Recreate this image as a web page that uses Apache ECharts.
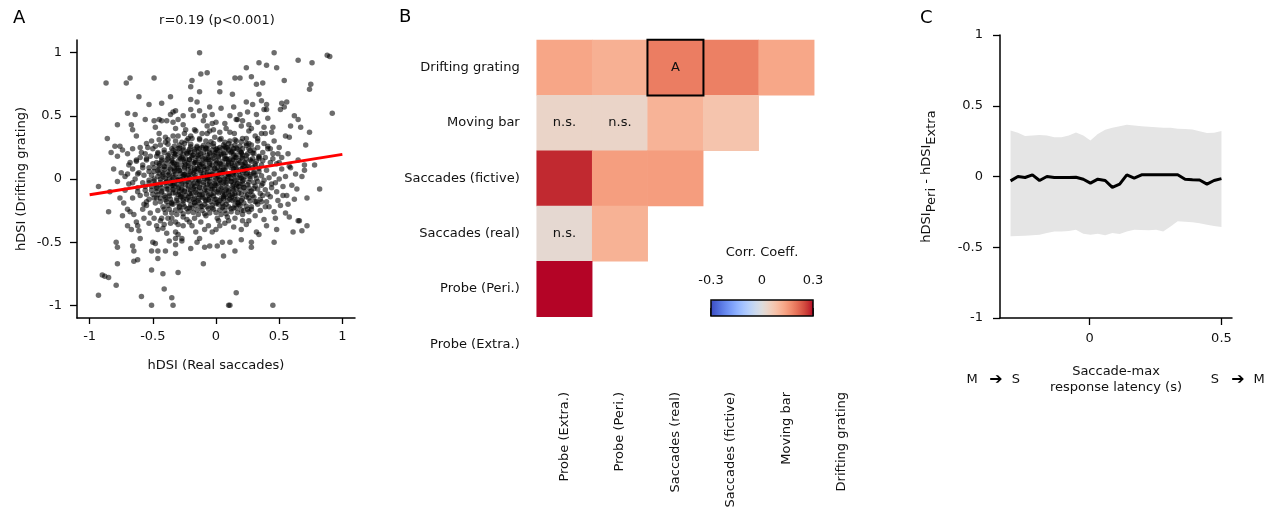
<!DOCTYPE html>
<html><head><meta charset="utf-8">
<script src="https://cdn.jsdelivr.net/npm/echarts@6/dist/echarts.min.js"></script>
<style>html,body{margin:0;padding:0;background:#fff}#c{width:1270px;height:512px}</style>
</head><body><div id="c"></div>
<script>
// ---------- Panel A data ----------
const scatterOuter = [
[-0.13,1.0],[-0.12,0.83],[-0.07,0.84],[-0.87,0.76],[-0.71,0.76],[-0.68,0.8],[-0.49,0.8],[-0.19,0.78],[-0.2,0.73],[-0.13,0.69],[-0.61,0.65],[-0.53,0.59],[-0.43,0.6],[-0.36,0.65],[-0.2,0.63],[-0.15,0.61],[-0.05,0.57],[-0.2,0.55],[-0.13,0.54],[-0.7,0.52],[-0.64,0.51],[-0.56,0.47],[-0.49,0.46],[-0.45,0.47],[-0.43,0.46],[-0.39,0.46],[-0.34,0.53],[-0.32,0.54],[-0.36,0.51],[-0.26,0.5],[-0.18,0.5],[-0.09,0.5],[-0.03,0.51],[-0.78,0.43],[-0.67,0.43],[-0.66,0.39],[-0.48,0.41],[-0.34,0.45],[-0.3,0.47],[-0.26,0.43],[-0.17,0.39],[-0.1,0.46],[-0.07,0.42],[-0.03,0.44],[-0.63,0.34],[-0.86,0.32],[-0.45,0.36],[-0.4,0.33],[-0.34,0.34],[-0.32,0.4],[-0.3,0.34],[-0.25,0.36],[-0.22,0.32],[-0.2,0.34],[-0.16,0.38],[-0.13,0.32],[-0.07,0.36],[-0.05,0.38],[-0.8,0.26],[-0.76,0.26],[-0.83,0.21],[-0.78,0.18],[-0.74,0.23],[-0.7,0.2],[-0.66,0.24],[-0.59,0.21],[-0.54,0.25],[-0.51,0.3],[-0.48,0.26],[-0.46,0.2],[-0.55,0.16],[-0.63,0.15],[-0.69,0.11],[-0.58,0.09],[-0.75,0.05],[-0.7,0.04],
[0.46,1.0],[0.34,0.92],[0.4,0.9],[0.48,0.88],[0.24,0.88],[0.65,0.94],[0.76,0.92],[0.88,0.98],[0.9,0.97],[0.15,0.8],[0.19,0.8],[0.28,0.81],[0.32,0.75],[0.37,0.76],[0.54,0.78],[0.75,0.75],[0.74,0.71],[0.03,0.76],[0.03,0.69],[0.13,0.67],[0.34,0.67],[0.36,0.62],[0.24,0.61],[0.29,0.59],[0.4,0.59],[0.4,0.55],[0.38,0.55],[0.52,0.6],[0.56,0.61],[0.54,0.57],[0.51,0.55],[0.04,0.56],[0.14,0.57],[0.11,0.5],[0.19,0.51],[0.25,0.53],[0.32,0.51],[0.21,0.46],[0.17,0.47],[0.41,0.48],[0.62,0.5],[0.65,0.47],[0.92,0.52],[0.59,0.42],[0.67,0.41],[0.74,0.37],[0.38,0.41],[0.45,0.41],[0.44,0.37],[0.39,0.36],[0.55,0.34],[0.58,0.33],[0.26,0.38],[0.31,0.34],[0.33,0.32],[0.71,0.27],[0.5,0.25],[0.41,0.24],[0.33,0.25],[0.26,0.28],[0.21,0.32],[0.16,0.3],[0.11,0.37],[0.07,0.44],[0.0,0.45],[0.57,0.2],[0.49,0.2],[0.65,0.15],[0.7,0.11],[0.78,0.11],[0.59,0.09],[0.5,0.13],[0.7,0.07],[0.63,0.04],
[0.16,0.47],[0.08,0.4],[0.2,0.42],[0.145,0.36],[0.26,0.43],[0.33,0.45],[0.04,0.32],[0.24,0.32],[0.12,0.26],
[-0.93,-0.06],[-0.85,-0.26],[-0.76,-0.15],[-0.93,-0.92],[-0.9,-0.76],[-0.88,-0.77],[-0.85,-0.78],[-0.79,-0.84],[-0.78,-0.67],[-0.79,-0.5],[-0.78,-0.54],[-0.66,-0.53],[-0.65,-0.57],[-0.65,-0.65],[-0.62,-0.64],[-0.6,-0.47],[-0.5,-0.5],[-0.48,-0.51],[-0.51,-0.57],[-0.46,-0.57],[-0.46,-0.63],[-0.51,-0.72],[-0.42,-0.75],[-0.41,-0.87],[-0.59,-0.93],[-0.51,-1.0],[-0.35,-0.94],[-0.34,-1.0],[-0.3,-0.74],[-0.4,-0.57],[-0.32,-0.59],[-0.32,-0.52],[-0.32,-0.47],[-0.27,-0.49],[-0.2,-0.55],[-0.15,-0.5],[-0.09,-0.54],[-0.05,-0.53],[-0.1,-0.67],[-0.74,-0.29],[-0.7,-0.24],[-0.68,-0.26],[-0.65,-0.28],[-0.63,-0.34],[-0.62,-0.37],[-0.7,-0.37],[-0.67,-0.4],[-0.61,-0.41],[-0.57,-0.2],[-0.55,-0.18],[-0.47,-0.15],[-0.47,-0.37],[-0.46,-0.4],[-0.42,-0.39],[-0.39,-0.43],[-0.37,-0.49],[-0.32,-0.42],[-0.3,-0.44],[-0.27,-0.47],[-0.43,-0.31],[-0.38,-0.31],[-0.32,-0.34],[-0.26,-0.37],[-0.21,-0.34],[-0.16,-0.42],[-0.09,-0.4],[-0.13,-0.47],[-0.03,-0.42],
[0.82,-0.08],[0.72,-0.15],[0.62,-0.16],[0.57,-0.2],[0.51,-0.21],[0.49,-0.17],[0.53,-0.13],[0.56,-0.13],[0.43,-0.14],[0.37,-0.13],[0.36,-0.18],[0.4,-0.18],[0.42,-0.22],[0.46,-0.26],[0.47,-0.31],[0.58,-0.3],[0.65,-0.33],[0.66,-0.33],[0.72,-0.37],[0.68,-0.41],[0.61,-0.42],[0.46,-0.5],[0.38,-0.32],[0.32,-0.42],[0.34,-0.44],[0.28,-0.5],[0.28,-0.54],[0.2,-0.48],[0.11,-0.5],[0.05,-0.5],[0.01,-0.53],[0.06,-0.61],[0.15,-0.57],[0.16,-0.9],[0.1,-1.0],[0.11,-1.0],[0.45,-1.0],[0.21,-0.33],[0.26,-0.33],[0.1,-0.33],[0.02,-0.33],[0.03,-0.37],[0.26,-0.26],[0.28,-0.24],[0.22,-0.25],[0.33,-0.2],[0.32,-0.18],[0.18,-0.2]
];
const scatterRing = [
[-0.68,0.13],[-0.72,-0.09],[-0.66,-0.15],[-0.62,-0.1],[-0.58,-0.24],[-0.52,-0.27],[-0.49,-0.31],[-0.53,-0.35],[-0.57,-0.31],[-0.44,-0.33],[-0.41,-0.36],[-0.36,-0.35],[-0.3,-0.36],[-0.23,-0.32],[-0.19,-0.37],[-0.12,-0.34],[-0.06,-0.37],[0.0,-0.4],[0.07,-0.35],[0.14,-0.38],[0.15,-0.31],[0.2,-0.4],[0.24,-0.36],[0.31,-0.29],[0.35,-0.25],[0.39,-0.22],[0.44,-0.07],[0.47,-0.03],[0.53,-0.06],[0.55,0.02],[0.48,0.12],[0.45,0.16],[0.52,0.17],[0.43,0.24],[0.38,0.28],[0.46,0.3],[0.36,0.36],[0.28,0.4],[-0.02,0.39],[0.03,0.37],[-0.11,0.36],[-0.24,0.39],[-0.4,0.29],[-0.45,0.31],[-0.55,0.28],[-0.6,0.25],[-0.62,0.04],[-0.66,-0.03],[-0.78,-0.02],[-0.81,0.08],[-0.84,-0.1],[-0.73,-0.19],[0.6,-0.05],[0.58,0.1],[0.64,-0.08],[0.68,0.02],[0.55,-0.27],[0.48,-0.4],[0.4,-0.37]
];
const scatterCore = [
[-0.38,0.31],[-0.27,0.29],[-0.19,0.32],[-0.08,0.30],[-0.01,0.33],[0.07,0.29],[0.15,0.31],[0.24,0.28],[0.33,0.30],
[-0.44,0.27],[-0.33,0.26],[-0.25,0.28],[-0.15,0.26],[-0.06,0.27],[0.03,0.25],[0.1,0.28],[0.19,0.26],[0.28,0.27],[0.41,0.26],
[-0.5,0.24],[-0.41,0.23],[-0.3,0.24],[-0.22,0.22],[-0.13,0.24],[-0.03,0.23],[0.05,0.24],[0.13,0.22],[0.21,0.24],[0.3,0.23],[0.37,0.21],
[-0.56,0.2],[-0.46,0.21],[-0.37,0.2],[-0.28,0.21],[-0.18,0.19],[-0.1,0.21],[-0.01,0.2],[0.08,0.21],[0.16,0.19],[0.25,0.2],[0.34,0.18],[0.45,0.2],
[-0.6,0.17],[-0.52,0.18],[-0.43,0.17],[-0.33,0.18],[-0.24,0.16],[-0.15,0.18],[-0.06,0.17],[0.02,0.18],[0.11,0.16],[0.2,0.17],[0.29,0.16],[0.39,0.17],
[-0.63,0.14],[-0.55,0.15],[-0.47,0.13],[-0.39,0.15],[-0.3,0.14],[-0.21,0.15],[-0.12,0.13],[-0.04,0.15],[0.05,0.14],[0.14,0.15],[0.23,0.13],[0.32,0.14],[0.43,0.13],
[-0.58,0.11],[-0.5,0.12],[-0.41,0.1],[-0.35,0.12],[-0.27,0.11],[-0.18,0.12],[-0.09,0.1],[0.0,0.12],[0.08,0.11],[0.17,0.12],[0.26,0.1],[0.36,0.11],
[-0.66,0.08],[-0.53,0.09],[-0.45,0.08],[-0.37,0.09],[-0.29,0.07],[-0.2,0.09],[-0.14,0.08],[-0.05,0.09],[0.03,0.07],[0.12,0.09],[0.2,0.08],[0.29,0.09],[0.4,0.07],[0.52,0.08],
[-0.61,0.05],[-0.49,0.06],[-0.42,0.05],[-0.33,0.06],[-0.24,0.04],[-0.16,0.06],[-0.07,0.05],[0.01,0.06],[0.09,0.04],[0.18,0.06],[0.25,0.05],[0.34,0.06],[0.46,0.04],
[-0.72,0.02],[-0.57,0.03],[-0.46,0.02],[-0.38,0.03],[-0.3,0.01],[-0.22,0.03],[-0.11,0.02],[-0.03,0.03],[0.06,0.01],[0.14,0.03],[0.23,0.02],[0.31,0.03],[0.42,0.01],
[-0.64,0.0],[-0.53,-0.01],[-0.44,0.0],[-0.35,-0.01],[-0.26,0.0],[-0.19,-0.01],[-0.09,0.0],[-0.01,-0.01],[0.07,0.0],[0.16,-0.01],[0.27,0.0],[0.38,-0.01],[0.5,0.0],
[-0.69,-0.04],[-0.58,-0.03],[-0.48,-0.04],[-0.4,-0.03],[-0.31,-0.04],[-0.23,-0.02],[-0.14,-0.03],[-0.05,-0.04],[0.04,-0.03],[0.12,-0.02],[0.21,-0.04],[0.3,-0.03],[0.44,-0.04],
[-0.62,-0.07],[-0.51,-0.06],[-0.43,-0.07],[-0.34,-0.05],[-0.27,-0.07],[-0.17,-0.06],[-0.08,-0.07],[0.0,-0.05],[0.09,-0.07],[0.18,-0.06],[0.26,-0.07],[0.36,-0.05],
[-0.56,-0.09],[-0.47,-0.1],[-0.38,-0.08],[-0.29,-0.1],[-0.2,-0.09],[-0.12,-0.1],[-0.03,-0.08],[0.06,-0.1],[0.14,-0.09],[0.23,-0.1],[0.33,-0.08],[0.48,-0.1],
[-0.6,-0.13],[-0.5,-0.12],[-0.41,-0.13],[-0.32,-0.11],[-0.24,-0.13],[-0.15,-0.12],[-0.06,-0.13],[0.02,-0.11],[0.11,-0.13],[0.2,-0.12],[0.29,-0.13],[0.41,-0.12],
[-0.53,-0.16],[-0.44,-0.15],[-0.36,-0.16],[-0.27,-0.14],[-0.18,-0.16],[-0.1,-0.15],[-0.01,-0.16],[0.08,-0.14],[0.17,-0.16],[0.26,-0.15],[0.35,-0.16],
[-0.48,-0.19],[-0.39,-0.18],[-0.3,-0.19],[-0.21,-0.17],[-0.13,-0.19],[-0.04,-0.18],[0.05,-0.19],[0.13,-0.17],[0.22,-0.19],[0.31,-0.18],
[-0.55,-0.21],[-0.42,-0.22],[-0.34,-0.2],[-0.25,-0.22],[-0.16,-0.21],[-0.07,-0.22],[0.02,-0.2],[0.1,-0.22],[0.19,-0.21],[0.28,-0.22],
[-0.46,-0.25],[-0.37,-0.24],[-0.28,-0.25],[-0.19,-0.23],[-0.11,-0.25],[-0.02,-0.24],[0.07,-0.25],[0.16,-0.23],[0.25,-0.24],
[-0.4,-0.27],[-0.31,-0.28],[-0.22,-0.26],[-0.14,-0.28],[-0.05,-0.27],[0.04,-0.28],[0.12,-0.26],[0.21,-0.28],
[-0.35,-0.31],[-0.26,-0.3],[-0.17,-0.31],[-0.08,-0.29],[0.01,-0.31],[0.09,-0.3],
[-0.2,0.255],[-0.11,0.25],[-0.02,0.26],[0.07,0.255],[0.16,0.245],
[-0.34,0.225],[-0.26,0.23],[-0.17,0.22],[-0.08,0.235],[0.01,0.225],[0.1,0.23],[0.19,0.22],[0.27,0.225],
[-0.32,0.195],[-0.23,0.2],[-0.14,0.19],[-0.05,0.2],[0.04,0.195],[0.12,0.205],[0.21,0.19],[0.3,0.2],
[-0.38,0.165],[-0.28,0.16],[-0.19,0.17],[-0.1,0.16],[-0.02,0.165],[0.07,0.16],[0.16,0.17],[0.24,0.16],[0.34,0.165],
[-0.43,0.135],[-0.34,0.13],[-0.25,0.135],[-0.17,0.13],[-0.08,0.14],[0.01,0.13],[0.1,0.135],[0.19,0.13],[0.28,0.14],
[-0.45,0.105],[-0.31,0.1],[-0.22,0.105],[-0.13,0.1],[-0.05,0.11],[0.04,0.1],[0.13,0.105],[0.22,0.1],[0.31,0.105],
[-0.41,0.075],[-0.33,0.07],[-0.25,0.08],[-0.17,0.07],[-0.09,0.075],[-0.01,0.08],[0.07,0.07],[0.16,0.075],[0.24,0.08],
[-0.45,0.045],[-0.37,0.04],[-0.28,0.045],[-0.2,0.04],[-0.12,0.05],[-0.03,0.04],[0.05,0.045],[0.13,0.04],[0.21,0.05],[0.3,0.045],
[-0.42,0.015],[-0.34,0.01],[-0.26,0.02],[-0.17,0.015],[-0.07,0.01],[0.02,0.02],[0.1,0.015],[0.19,0.01],[0.27,0.02],
[-0.49,-0.015],[-0.39,-0.02],[-0.3,-0.01],[-0.22,-0.02],[-0.13,-0.015],[-0.05,-0.02],[0.03,-0.01],[0.12,-0.02],[0.21,-0.015],[0.33,-0.02],
[-0.44,-0.045],[-0.35,-0.05],[-0.27,-0.04],[-0.19,-0.05],[-0.1,-0.045],[-0.01,-0.05],[0.08,-0.04],[0.16,-0.05],[0.25,-0.045],
[-0.47,-0.075],[-0.39,-0.08],[-0.3,-0.075],[-0.22,-0.08],[-0.13,-0.07],[-0.04,-0.08],[0.04,-0.075],[0.13,-0.08],[0.22,-0.07],[0.3,-0.075],
[-0.43,-0.105],[-0.34,-0.11],[-0.25,-0.1],[-0.16,-0.105],[-0.08,-0.11],[0.01,-0.1],[0.1,-0.105],[0.18,-0.11],[0.27,-0.1],
[-0.37,-0.135],[-0.28,-0.14],[-0.2,-0.13],[-0.11,-0.14],[-0.02,-0.135],[0.06,-0.14],[0.15,-0.13],[0.24,-0.14],
[-0.4,-0.165],[-0.31,-0.17],[-0.23,-0.16],[-0.14,-0.17],[-0.06,-0.165],[0.03,-0.17],[0.11,-0.16],[0.2,-0.17],
[-0.35,-0.195],[-0.26,-0.2],[-0.17,-0.19],[-0.09,-0.2],[0.0,-0.195],[0.08,-0.2],[0.17,-0.19],
[-0.29,-0.225],[-0.21,-0.23],[-0.12,-0.22],[-0.03,-0.23],[0.05,-0.225],[0.14,-0.23]
];
const scatterCore2 = [
[-0.32,0.30],[-0.23,0.305],[-0.13,0.31],[-0.04,0.295],[0.03,0.31],[0.11,0.3],[0.2,0.295],
[-0.38,0.275],[-0.29,0.27],[-0.2,0.275],[-0.1,0.265],[-0.02,0.28],[0.06,0.27],[0.15,0.27],[0.24,0.265],
[-0.35,0.24],[-0.26,0.245],[-0.17,0.235],[-0.08,0.245],[0.01,0.24],[0.09,0.245],[0.17,0.235],[0.26,0.24],
[-0.41,0.21],[-0.32,0.215],[-0.23,0.205],[-0.14,0.215],[-0.05,0.21],[0.04,0.205],[0.12,0.215],[0.2,0.21],[0.29,0.205],
[-0.47,0.18],[-0.38,0.185],[-0.29,0.175],[-0.19,0.185],[-0.11,0.175],[-0.02,0.185],[0.07,0.18],[0.15,0.175],[0.24,0.185],[0.34,0.175],
[-0.43,0.15],[-0.35,0.145],[-0.26,0.155],[-0.16,0.145],[-0.08,0.155],[0.0,0.145],[0.09,0.155],[0.18,0.145],[0.27,0.15],[0.37,0.145],
[-0.45,0.12],[-0.39,0.125],[-0.31,0.115],[-0.22,0.125],[-0.13,0.115],[-0.05,0.125],[0.04,0.115],[0.12,0.125],[0.21,0.115],[0.31,0.12],
[-0.49,0.09],[-0.41,0.095],[-0.33,0.085],[-0.25,0.095],[-0.17,0.085],[-0.1,0.095],[-0.01,0.085],[0.08,0.095],[0.16,0.085],[0.25,0.095],[0.34,0.085],
[-0.53,0.06],[-0.46,0.065],[-0.38,0.055],[-0.29,0.065],[-0.2,0.055],[-0.12,0.065],[-0.03,0.055],[0.05,0.065],[0.14,0.055],[0.22,0.065],[0.3,0.055],
[-0.51,0.03],[-0.42,0.035],[-0.34,0.025],[-0.26,0.035],[-0.16,0.025],[-0.07,0.035],[0.01,0.025],[0.1,0.035],[0.19,0.025],[0.27,0.035],[0.36,0.025],
[-0.49,0.0],[-0.4,0.005],[-0.31,-0.005],[-0.23,0.005],[-0.14,-0.005],[-0.05,0.005],[0.03,-0.005],[0.12,0.005],[0.22,-0.005],[0.32,0.005],
[-0.53,-0.03],[-0.44,-0.025],[-0.36,-0.035],[-0.27,-0.025],[-0.18,-0.035],[-0.1,-0.025],[-0.01,-0.035],[0.08,-0.025],[0.17,-0.035],[0.26,-0.025],[0.37,-0.035],
[-0.56,-0.06],[-0.47,-0.065],[-0.39,-0.055],[-0.3,-0.065],[-0.22,-0.055],[-0.13,-0.065],[-0.04,-0.055],[0.05,-0.065],[0.13,-0.055],[0.22,-0.065],[0.31,-0.055],
[-0.51,-0.09],[-0.43,-0.095],[-0.34,-0.085],[-0.25,-0.095],[-0.16,-0.085],[-0.07,-0.095],[0.02,-0.085],[0.1,-0.095],[0.19,-0.085],[0.28,-0.095],[0.39,-0.085],
[-0.55,-0.12],[-0.46,-0.125],[-0.37,-0.115],[-0.28,-0.125],[-0.19,-0.115],[-0.11,-0.125],[-0.02,-0.115],[0.07,-0.125],[0.15,-0.115],[0.25,-0.125],[0.35,-0.115],
[-0.49,-0.15],[-0.4,-0.145],[-0.31,-0.155],[-0.22,-0.145],[-0.14,-0.155],[-0.05,-0.145],[0.04,-0.155],[0.12,-0.145],[0.21,-0.155],[0.3,-0.145],
[-0.44,-0.18],[-0.35,-0.185],[-0.26,-0.175],[-0.17,-0.185],[-0.08,-0.175],[0.01,-0.185],[0.09,-0.175],[0.18,-0.185],[0.27,-0.175],
[-0.38,-0.21],[-0.29,-0.215],[-0.2,-0.205],[-0.11,-0.215],[-0.03,-0.205],[0.06,-0.215],[0.15,-0.205],[0.24,-0.215],
[-0.41,-0.24],[-0.32,-0.245],[-0.23,-0.235],[-0.15,-0.245],[-0.06,-0.235],[0.03,-0.245],[0.12,-0.235],[0.2,-0.245],
[-0.35,-0.27],[-0.26,-0.275],[-0.18,-0.265],[-0.09,-0.275],[0.0,-0.265],[0.08,-0.275],[0.17,-0.265]
];
const scatterCore3 = [
[-0.29,0.245],[-0.21,0.235],[-0.15,0.25],[-0.07,0.24],[0.0,0.235],[0.08,0.25],[0.14,0.24],
[-0.33,0.2],[-0.26,0.195],[-0.2,0.21],[-0.12,0.2],[-0.07,0.19],[0.0,0.21],[0.06,0.2],[0.14,0.19],[0.2,0.205],
[-0.35,0.16],[-0.27,0.17],[-0.21,0.155],[-0.14,0.165],[-0.06,0.155],[0.02,0.17],[0.08,0.16],[0.13,0.15],[0.21,0.165],
[-0.33,0.12],[-0.24,0.115],[-0.16,0.13],[-0.11,0.12],[-0.03,0.11],[0.03,0.125],[0.1,0.12],[0.15,0.11],[0.23,0.125],
[-0.36,0.08],[-0.3,0.085],[-0.22,0.075],[-0.15,0.085],[-0.07,0.08],[0.01,0.09],[0.06,0.075],[0.14,0.08],[0.21,0.085],
[-0.32,0.04],[-0.25,0.035],[-0.18,0.05],[-0.1,0.04],[-0.05,0.03],[0.03,0.045],[0.1,0.04],[0.16,0.03],[0.24,0.04],
[-0.37,0.0],[-0.28,-0.005],[-0.21,0.01],[-0.16,0.0],[-0.07,-0.005],[0.0,0.005],[0.09,0.0],[0.15,-0.01],[0.2,0.005],
[-0.33,-0.04],[-0.24,-0.045],[-0.15,-0.035],[-0.07,-0.045],[0.02,-0.04],[0.06,-0.03],[0.14,-0.045],[0.19,-0.04],
[-0.34,-0.08],[-0.27,-0.085],[-0.18,-0.075],[-0.09,-0.085],[-0.01,-0.08],[0.08,-0.085],[0.16,-0.075],
[-0.3,-0.12],[-0.21,-0.115],[-0.13,-0.125],[-0.04,-0.12],[0.05,-0.115],[0.13,-0.125],
[-0.26,-0.16],[-0.17,-0.155],[-0.08,-0.165],[0.0,-0.16],[0.06,-0.155],[0.15,-0.165]
];
const fitLine = [[-1,-0.125],[1,0.195]];
const ticksA = [-1,-0.5,0,0.5,1];

// ---------- Panel B data ----------
const heatRows = ['Drifting grating','Moving bar','Saccades (fictive)','Saccades (real)','Probe (Peri.)','Probe (Extra.)'];
const heatCols = ['Probe (Extra.)','Probe (Peri.)','Saccades (real)','Saccades (fictive)','Moving bar','Drifting grating'];
const corrMatrix = [
  [0.132, 0.114, 0.19, 0.186, 0.13, null],
  [0.033, 0.033, 0.108, 0.075, null, null],
  [0.28, 0.144, 0.145, null, null, null],
  [0.018, 0.111, null, null, null, null],
  [0.31, null, null, null, null, null],
  [null, null, null, null, null, null]
];
const cellLabels = [
  ['', '', 'A', '', '', ''],
  ['n.s.', 'n.s.', '', '', '', ''],
  ['', '', '', '', '', ''],
  ['n.s.', '', '', '', '', ''],
  ['', '', '', '', '', ''],
  ['', '', '', '', '', '']
];
const cbTicks = [-0.3, 0, 0.3];
const coolwarm = ['#3b4cc0','#445acc','#4d68d7','#5775e1','#6282ea','#6c8ef1','#779af7','#82a5fb','#8db0fe','#98b9ff','#a3c2ff','#aec9fd','#b8d0f9','#c2d5f4','#ccd9ee','#d5dbe6','#dddddd','#e5d8d1','#ecd3c5','#f1ccb9','#f5c4ad','#f7bba0','#f7b194','#f7a687','#f49a7b','#f18d6f','#ec7f63','#e57058','#de604d','#d55042','#cb3e38','#c0282f','#b40426'];

// ---------- Panel C data ----------
const latency = [-0.300,-0.272,-0.245,-0.217,-0.190,-0.162,-0.134,-0.107,-0.079,-0.052,-0.024,0.003,0.031,0.059,0.086,0.114,0.141,0.169,0.197,0.224,0.252,0.279,0.307,0.334,0.362,0.390,0.417,0.445,0.472,0.500];
const meanDiff = [-0.031,0.0,-0.007,0.012,-0.028,0.0,-0.007,-0.007,-0.007,-0.005,-0.019,-0.047,-0.019,-0.028,-0.077,-0.054,0.012,-0.011,0.012,0.012,0.012,0.012,0.012,0.012,-0.019,-0.023,-0.025,-0.054,-0.028,-0.015];
const bandUpper = [0.325,0.31,0.287,0.29,0.294,0.29,0.278,0.278,0.29,0.311,0.29,0.254,0.30,0.33,0.345,0.355,0.365,0.36,0.355,0.352,0.348,0.345,0.345,0.338,0.335,0.333,0.32,0.308,0.31,0.322];
const bandLower = [-0.423,-0.421,-0.419,-0.415,-0.411,-0.40,-0.388,-0.388,-0.385,-0.376,-0.404,-0.411,-0.404,-0.416,-0.40,-0.407,-0.388,-0.376,-0.378,-0.38,-0.376,-0.388,-0.353,-0.317,-0.32,-0.324,-0.33,-0.341,-0.35,-0.357];
const ticksCx = [0, 0.5];

// ---------- build ----------
const FONT = 'DejaVu Sans';
const TXT = '#111';
const heatData = [];
const heatDataBordered = [];
corrMatrix.forEach((row, r) => row.forEach((v, c) => {
  if (v === null) return;
  const item = {value: [c, r, v], txt: cellLabels[r][c]};
  if (cellLabels[r][c] === 'A') {
    item.itemStyle = {borderColor: '#000', borderWidth: 2};
    heatDataBordered.push(item);
  } else heatData.push(item);
}));

function valAxis(grid, min, max, extra) {
  return Object.assign({
    type: 'value', gridIndex: grid, min: min, max: max,
    axisLine: {show: true, onZero: false, lineStyle: {color: '#000', width: 1.5}},
    axisTick: {show: true, length: 6, lineStyle: {color: '#000', width: 1.3}},
    axisLabel: {color: TXT, fontFamily: FONT, fontSize: 13},
    splitLine: {show: false},
    nameTextStyle: {color: TXT, fontFamily: FONT, fontSize: 13}
  }, extra);
}

const option = {
  backgroundColor: '#fff',
  animation: false,
  textStyle: {fontFamily: FONT},
  grid: [
    {left: 77, top: 40, width: 278, height: 278},
    {left: 536.7, top: 40, width: 333, height: 332},
    {left: 711, top: 300, width: 102, height: 16, show: true, z: 10, backgroundColor: 'transparent', borderColor: '#000', borderWidth: 1.5},
    {left: 1000, top: 35, width: 232, height: 283}
  ],
  xAxis: [
    valAxis(0, -1.1, 1.1, {
      axisTick: {show: true, length: 6, customValues: ticksA, lineStyle: {color: '#000', width: 1.3}},
      axisLabel: {customValues: ticksA, color: TXT, fontFamily: FONT, fontSize: 13, margin: 12},
      name: 'hDSI (Real saccades)', nameLocation: 'middle', nameGap: 41
    }),
    {type: 'category', gridIndex: 1, data: heatCols,
      axisLine: {show: false}, axisTick: {show: false}, splitLine: {show: false},
      axisLabel: {rotate: 90, margin: 20, color: TXT, fontFamily: FONT, fontSize: 13}},
    {type: 'value', gridIndex: 2, position: 'top', min: -0.3, max: 0.3,
      axisLine: {show: false}, splitLine: {show: false},
      axisTick: {show: true, length: 8, customValues: cbTicks, lineStyle: {color: '#000', width: 1.5}},
      axisLabel: {customValues: cbTicks, margin: 13, color: TXT, fontFamily: FONT, fontSize: 13},
      name: 'Corr. Coeff.', nameLocation: 'middle', nameGap: 41,
      nameTextStyle: {color: TXT, fontFamily: FONT, fontSize: 13}},
    valAxis(3, -0.34, 0.54, {
      axisTick: {show: true, length: 7, customValues: ticksCx, lineStyle: {color: '#000', width: 1.3}},
      axisLabel: {customValues: ticksCx, color: TXT, fontFamily: FONT, fontSize: 13, margin: 14},
      name: 'Saccade-max\nresponse latency (s)', nameLocation: 'middle', nameGap: 46,
      nameTextStyle: {color: TXT, fontFamily: FONT, fontSize: 13, lineHeight: 16}
    })
  ],
  yAxis: [
    valAxis(0, -1.1, 1.1, {
      axisTick: {show: true, length: 7, customValues: ticksA, lineStyle: {color: '#000', width: 1.3}},
      axisLabel: {customValues: ticksA, color: TXT, fontFamily: FONT, fontSize: 13, margin: 15},
      name: 'hDSI (Drifting grating)', nameLocation: 'middle', nameGap: 49
    }),
    {type: 'category', gridIndex: 1, data: heatRows, inverse: true,
      axisLine: {show: false}, axisTick: {show: false}, splitLine: {show: false},
      axisLabel: {margin: 17, color: TXT, fontFamily: FONT, fontSize: 13}},
    {type: 'value', gridIndex: 2, show: false, min: 0, max: 1},
    valAxis(3, -1, 1, {
      interval: 0.5,
      axisTick: {show: true, length: 7, lineStyle: {color: '#000', width: 1.3}},
      axisLabel: {color: TXT, fontFamily: FONT, fontSize: 13, margin: 17},
      name: '{a|hDSI}{s|Peri}{a| - hDSI}{s|Extra}', nameLocation: 'middle', nameGap: 62,
      nameTextStyle: {color: TXT, fontFamily: FONT, fontSize: 13,
        rich: {a: {fontFamily: FONT, fontSize: 13, color: TXT, lineHeight: 15, verticalAlign: 'top'},
               s: {fontFamily: FONT, fontSize: 13, color: TXT, lineHeight: 18, verticalAlign: 'bottom'}}}
    })
  ],
  visualMap: [{
    type: 'continuous', seriesIndex: 2, min: -0.3, max: 0.3,
    inRange: {color: coolwarm}, orient: 'horizontal',
    left: 711, top: 300, itemWidth: 16, itemHeight: 102,
    calculable: false, hoverLink: false, text: null, padding: 0,
    textStyle: {color: 'transparent'}
  }],
  series: [
    {type: 'scatter', xAxisIndex: 0, yAxisIndex: 0, data: scatterOuter.concat(scatterRing, scatterCore, scatterCore2, scatterCore3),
      symbolSize: 5.5, itemStyle: {color: 'rgba(0,0,0,0.72)'}, silent: true, large: false},
    {type: 'line', xAxisIndex: 0, yAxisIndex: 0, data: fitLine, symbol: 'none',
      lineStyle: {color: '#ff0000', width: 3}, silent: true, z: 3},
    {type: 'heatmap', xAxisIndex: 1, yAxisIndex: 1, data: heatData.concat(heatDataBordered),
      label: {show: true, color: '#111', fontFamily: FONT, fontSize: 13, formatter: p => p.data.txt || ''},
      emphasis: {disabled: true}},
    {type: 'scatter', xAxisIndex: 2, yAxisIndex: 2, data: []},
    {type: 'custom', xAxisIndex: 3, yAxisIndex: 3, silent: true, z: 1,
      data: latency.map((x, i) => [x, bandLower[i], bandUpper[i]]),
      encode: {x: 0, y: [1, 2]},
      renderItem: (params, api) => {
        if (params.dataIndex !== 0) return null;
        const pts = [];
        for (let i = 0; i < latency.length; i++) pts.push(api.coord([latency[i], bandUpper[i]]));
        for (let i = latency.length - 1; i >= 0; i--) pts.push(api.coord([latency[i], bandLower[i]]));
        return {type: 'polygon', shape: {points: pts}, style: {fill: '#e5e5e5', stroke: 'none'}};
      }},
    {type: 'line', xAxisIndex: 3, yAxisIndex: 3, data: latency.map((x, i) => [x, meanDiff[i]]),
      symbol: 'none', lineStyle: {color: '#000', width: 3}, silent: true, z: 3}
  ],
  graphic: [
    {type: 'text', x: 13, y: 18, style: {text: 'A', font: '18px "DejaVu Sans"', fill: '#000', textVerticalAlign: 'middle'}},
    {type: 'text', x: 399, y: 17, style: {text: 'B', font: '18px "DejaVu Sans"', fill: '#000', textVerticalAlign: 'middle'}},
    {type: 'text', x: 920, y: 18, style: {text: 'C', font: '18px "DejaVu Sans"', fill: '#000', textVerticalAlign: 'middle'}},
    {type: 'text', x: 217, y: 21, style: {text: 'r=0.19 (p<0.001)', font: '13px "DejaVu Sans"', fill: TXT, textAlign: 'center', textVerticalAlign: 'middle'}},
    {type: 'text', x: 972, y: 380, style: {text: 'M', font: '13px "DejaVu Sans"', fill: TXT, textAlign: 'center', textVerticalAlign: 'middle'}},
    {type: 'text', x: 996, y: 380, style: {text: '➔', font: 'bold 16px "DejaVu Sans"', fill: '#000', textAlign: 'center', textVerticalAlign: 'middle'}},
    {type: 'text', x: 1016, y: 380, style: {text: 'S', font: '13px "DejaVu Sans"', fill: TXT, textAlign: 'center', textVerticalAlign: 'middle'}},
    {type: 'text', x: 1215, y: 380, style: {text: 'S', font: '13px "DejaVu Sans"', fill: TXT, textAlign: 'center', textVerticalAlign: 'middle'}},
    {type: 'text', x: 1238, y: 380, style: {text: '➔', font: 'bold 16px "DejaVu Sans"', fill: '#000', textAlign: 'center', textVerticalAlign: 'middle'}},
    {type: 'text', x: 1259, y: 380, style: {text: 'M', font: '13px "DejaVu Sans"', fill: TXT, textAlign: 'center', textVerticalAlign: 'middle'}}
  ]
};
const chart = echarts.init(document.getElementById('c'), null, {renderer: 'canvas'});
chart.setOption(option);
</script>
</body></html>
